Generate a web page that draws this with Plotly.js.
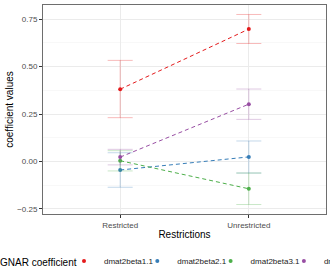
<!DOCTYPE html>
<html>
<head>
<meta charset="utf-8">
<script src="https://cdn.plot.ly/plotly-3.0.1.min.js"></script>
<style>html,body{margin:0;padding:0;background:#fff;}#chart{width:332px;height:277px;}</style>
</head>
<body>
<div id="chart"></div>
<script>
const categories = ["Restricted", "Unrestricted"];
const seriesNames = ["dmat2beta1.1", "dmat2beta2.1", "dmat2beta3.1", "dmat2beta4.1"];
const seriesColors = ["#E41A1C", "#377EB8", "#4DAF4A", "#984EA3"];
const errColors = ["rgba(228,26,28,0.3)", "rgba(55,126,184,0.3)", "rgba(77,175,74,0.3)", "rgba(152,78,163,0.3)"];
const beta1 = [0.381, 0.698];
const beta2 = [-0.045, 0.024];
const beta3 = [0.004, -0.144];
const beta4 = [0.023, 0.302];
const beta1Upper = [0.533, 0.775];
const beta1Lower = [0.231, 0.622];
const beta2Upper = [0.046, 0.108];
const beta2Lower = [-0.136, -0.061];
const beta3Upper = [0.057, -0.061];
const beta3Lower = [-0.050, -0.227];
const beta4Upper = [0.064, 0.382];
const beta4Lower = [-0.018, 0.222];
const yTicks = [-0.25, 0.00, 0.25, 0.50, 0.75];
const yTickLabels = ["\u22120.25", "0.00", "0.25", "0.50", "0.75"];
const legendTitle = "GNAR coefficient";

const values = [beta1, beta2, beta3, beta4];
const uppers = [beta1Upper, beta2Upper, beta3Upper, beta4Upper];
const lowers = [beta1Lower, beta2Lower, beta3Lower, beta4Lower];
const legendWidths = [38.3, 38.3, 38.3, 1];

const FONT = "Liberation Sans, Arial, sans-serif";

const lineTraces = values.map((v, i) => ({
  type: "scatter",
  mode: "lines",
  name: seriesNames[i],
  x: categories,
  y: v,
  line: {color: seriesColors[i], width: 1, dash: "4px,3px"},
  showlegend: false,
  hoverinfo: "skip"
}));

const pointTraces = values.map((v, i) => ({
  type: "scatter",
  mode: "markers",
  name: seriesNames[i],
  x: categories,
  y: v,
  marker: {color: seriesColors[i], size: 4},
  legendwidth: legendWidths[i],
  error_y: {
    type: "data",
    symmetric: false,
    array: v.map((y, k) => uppers[i][k] - y),
    arrayminus: v.map((y, k) => y - lowers[i][k]),
    color: errColors[i],
    thickness: 1,
    width: 12.5
  },
  hoverinfo: "x+y+name"
}));

const layout = {
  width: 332, height: 277,
  margin: {l: 43, r: 6, t: 5, b: 63, autoexpand: false},
  paper_bgcolor: "#ffffff",
  plot_bgcolor: "#ffffff",
  font: {family: FONT, size: 8, color: "#4D4D4D"},
  showlegend: true,
  xaxis: {
    type: "category",
    categoryorder: "array",
    categoryarray: categories,
    range: [-0.6, 1.6],
    showgrid: true, gridcolor: "#EBEBEB", gridwidth: 1,
    zeroline: false,
    showline: true, mirror: true, linecolor: "#6E6E6E", linewidth: 1,
    ticks: "outside", ticklen: 3, tickcolor: "#333333", tickwidth: 1,
    tickfont: {family: FONT, size: 8, color: "#4D4D4D"},
    title: {text: "Restrictions", font: {family: FONT, size: 10, color: "#000000"}, standoff: 2}
  },
  yaxis: {
    range: [-0.277, 0.825],
    tickvals: yTicks,
    ticktext: yTickLabels,
    showgrid: true, gridcolor: "#EBEBEB", gridwidth: 1,
    minor: {tickvals: [-0.125, 0.125, 0.375, 0.625], showgrid: true, gridcolor: "#F4F4F4", gridwidth: 0.6, ticks: ""},
    zeroline: false,
    showline: true, mirror: true, linecolor: "#6E6E6E", linewidth: 1,
    ticks: "outside", ticklen: 3, tickcolor: "#333333", tickwidth: 1,
    tickfont: {family: FONT, size: 8, color: "#4D4D4D"},
    title: {text: "coefficient values", font: {family: FONT, size: 10, color: "#000000"}, standoff: 1}
  },
  legend: {
    orientation: "h",
    x: (74 - 43) / 283, xanchor: "left",
    y: -0.225, yanchor: "middle",
    font: {family: FONT, size: 8, color: "#1A1A1A"},
    itemwidth: 30,
    indentation: -10,
    bgcolor: "rgba(0,0,0,0)",
    borderwidth: 0
  },
  annotations: [{
    text: legendTitle,
    xref: "paper", yref: "paper",
    x: -43 / 283, xanchor: "left",
    y: -0.23, yanchor: "middle",
    showarrow: false,
    xshift: -2,
    font: {family: FONT, size: 10, color: "#000000"}
  }]
};

Plotly.newPlot("chart", lineTraces.concat(pointTraces), layout, {displayModeBar: false, staticPlot: true});
</script>
</body>
</html>
